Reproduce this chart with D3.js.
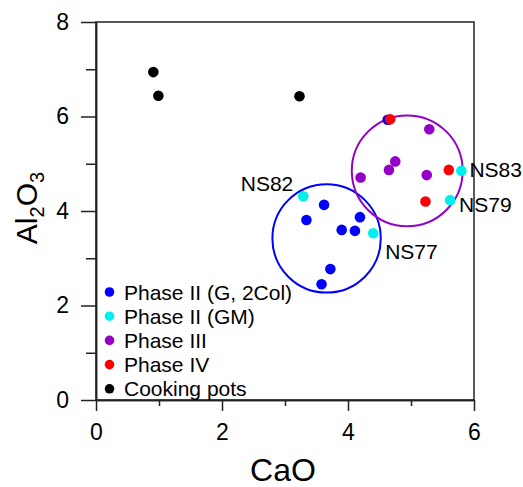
<!DOCTYPE html>
<html>
<head>
<meta charset="utf-8">
<script src="https://cdn.jsdelivr.net/npm/d3@7"></script>
<style>
  html, body { margin: 0; padding: 0; background: #fff; }
  text { font-family: "Liberation Sans", Arial, sans-serif; fill: #000; }
</style>
</head>
<body>
<svg id="chart" width="523" height="487"></svg>
<script>
// ---- data ----
const seriesNames = ["Phase II (G, 2Col)", "Phase II (GM)", "Phase III", "Phase IV", "Cooking pots"];
const seriesColors = ["#0000ff", "#00f0f0", "#9400c8", "#ff0000", "#000000"];

const phase2G_CaO  = [4.63, 3.62, 3.34, 4.19, 3.90, 4.11, 3.72, 3.58];
const phase2G_Al2O3 = [5.93, 4.13, 3.81, 3.87, 3.60, 3.58, 2.77, 2.45];

const phase2GM_CaO  = [3.29, 4.40, 5.80, 5.62];
const phase2GM_Al2O3 = [4.31, 3.53, 4.85, 4.23];
const phase2GM_labels = ["NS82", "NS77", "NS83", "NS79"];

const phase3_CaO  = [5.29, 4.75, 4.65, 4.20, 5.25];
const phase3_Al2O3 = [5.73, 5.05, 4.87, 4.71, 4.76];

const phase4_CaO  = [4.67, 5.60, 5.23];
const phase4_Al2O3 = [5.94, 4.87, 4.20];

const pots_CaO  = [0.91, 0.99, 3.23];
const pots_Al2O3 = [6.94, 6.44, 6.43];

// group circles (center in data units, radius in CaO units)
const groupCircles = [
  { cx: 3.66, cy: 3.42, r: 0.86, color: "#0000ff" },
  { cx: 4.94, cy: 4.85, r: 0.88, color: "#9400c8" }
];

const xMajorTicks = [0, 2, 4, 6];
const xMinorTicks = [1, 3, 5];
const yMajorTicks = [0, 2, 4, 6, 8];
const yMinorTicks = [1, 3, 5, 7];

// ---- layout ----
const svg = d3.select("#chart");
const x = d3.scaleLinear().domain([0, 6]).range([96, 474]);
const y = d3.scaleLinear().domain([0, 8]).range([400, 22]);
const axisColor = "#222";

// group circles
svg.append("g").selectAll("circle").data(groupCircles).join("circle")
  .attr("cx", d => x(d.cx)).attr("cy", d => y(d.cy))
  .attr("r", d => x(d.r) - x(0))
  .attr("fill", "none").attr("stroke", d => d.color).attr("stroke-width", 2);

// frame
svg.append("rect")
  .attr("x", x(0)).attr("y", y(8))
  .attr("width", x(6) - x(0)).attr("height", y(0) - y(8))
  .attr("fill", "none").attr("stroke", axisColor).attr("stroke-width", 1.5);

// axes
function styleAxis(g) {
  g.selectAll("path").attr("stroke", axisColor).attr("stroke-width", 1.5);
  g.selectAll("line").attr("stroke", axisColor).attr("stroke-width", 1.5);
  g.selectAll("text").style("font-family", "'Liberation Sans', Arial, sans-serif")
    .style("font-size", "23px").attr("fill", "#000");
}
svg.append("g").attr("transform", `translate(0,${y(0)})`)
  .call(d3.axisBottom(x).tickValues(xMinorTicks).tickSize(6).tickSizeOuter(0).tickFormat(""))
  .call(styleAxis);
svg.append("g").attr("transform", `translate(0,${y(0)})`)
  .call(d3.axisBottom(x).tickValues(xMajorTicks).tickSize(11).tickSizeOuter(0).tickPadding(13).tickFormat(d3.format("d")))
  .call(styleAxis);
svg.append("g").attr("transform", `translate(${x(0)},0)`)
  .call(d3.axisLeft(y).tickValues(yMinorTicks).tickSize(10).tickSizeOuter(0).tickFormat(""))
  .call(styleAxis);
svg.append("g").attr("transform", `translate(${x(0)},0)`)
  .call(d3.axisLeft(y).tickValues(yMajorTicks).tickSize(15).tickSizeOuter(0).tickPadding(12).tickFormat(d3.format("d")))
  .call(styleAxis);

// axis titles
svg.append("text").attr("x", 283).attr("y", 481).attr("text-anchor", "middle")
  .style("font-size", "32px").text("CaO");
const yt = svg.append("text").attr("transform", "translate(37,208) rotate(-90)")
  .attr("text-anchor", "middle").style("font-size", "30px");
yt.append("tspan").text("Al");
yt.append("tspan").attr("dy", 7).style("font-size", "20px").text("2");
yt.append("tspan").attr("dy", -7).text("O");
yt.append("tspan").attr("dy", 7).style("font-size", "20px").text("3");

// points
const seriesData = [
  d3.zip(phase2G_CaO, phase2G_Al2O3),
  d3.zip(phase2GM_CaO, phase2GM_Al2O3),
  d3.zip(phase3_CaO, phase3_Al2O3),
  d3.zip(phase4_CaO, phase4_Al2O3),
  d3.zip(pots_CaO, pots_Al2O3)
];
seriesData.forEach((pts, i) => {
  svg.append("g").selectAll("circle").data(pts).join("circle")
    .attr("cx", d => x(d[0])).attr("cy", d => y(d[1])).attr("r", 5.3)
    .attr("fill", seriesColors[i]);
});

// sample labels (offsets in px relative to the point)
const labelOffsets = [[-10, -5, "end"], [12, 26, "start"], [8, 6, "start"], [9, 12, "start"]];
phase2GM_labels.forEach((lab, i) => {
  const o = labelOffsets[i];
  svg.append("text")
    .attr("x", x(phase2GM_CaO[i]) + o[0]).attr("y", y(phase2GM_Al2O3[i]) + o[1])
    .attr("text-anchor", o[2]).style("font-size", "21px").text(lab);
});

// legend
const legend = svg.append("g");
seriesNames.forEach((name, i) => {
  const ly = 292 + i * 24.2;
  legend.append("circle").attr("cx", 109.5).attr("cy", ly).attr("r", 4.8).attr("fill", seriesColors[i]);
  legend.append("text").attr("x", 124).attr("y", ly + 7.5).style("font-size", "21px").text(name);
});
</script>
</body>
</html>
